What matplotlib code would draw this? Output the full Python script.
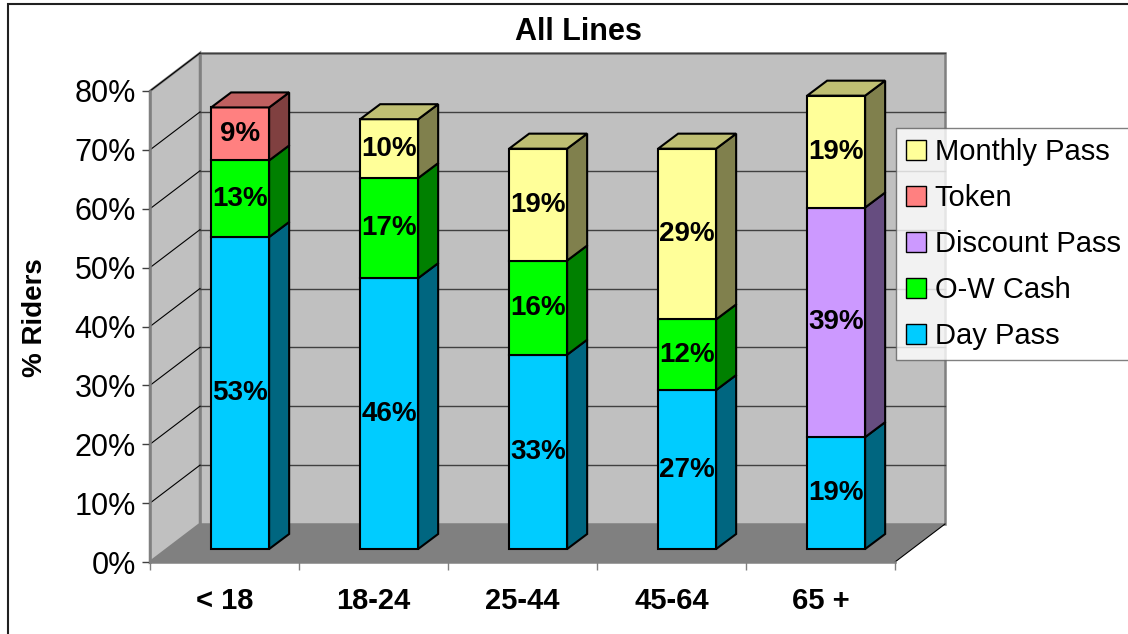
import matplotlib
matplotlib.use('Agg')
import matplotlib.pyplot as plt
import numpy as np
from matplotlib.colors import to_rgb
from matplotlib.patches import Polygon, Patch, Rectangle

plt.rcParams['font.family'] = ['Liberation Sans', 'DejaVu Sans']

categories = ['< 18', '18-24', '25-44', '45-64', '65 +']
series_names = ['Day Pass', 'O-W Cash', 'Discount Pass', 'Token', 'Monthly Pass']
day_pass = [53, 46, 33, 27, 19]
ow_cash = [13, 17, 16, 12, 0]
discount_pass = [0, 0, 0, 0, 39]
token = [9, 0, 0, 0, 0]
monthly_pass = [0, 10, 19, 29, 19]
series_colors = ['#00CCFF', '#00FF00', '#CC99FF', '#FF8080', '#FFFF99']
y_ticks = np.arange(0, 81, 10)

series_values = [day_pass, ow_cash, discount_pass, token, monthly_pass]

W, H = 1128, 634
fig = plt.figure(figsize=(W / 100, H / 100), dpi=100)

# front plane: x=-0.5 -> 150px, x=4.5 -> 895px ; y=0 -> 562px, y=80 -> 91px
px_x = 149.0
px_y = 471.0 / 80
ax = fig.add_axes([0, 0, 1, 1])
ax.set_xlim(-0.5 - 150 / px_x, -0.5 + (W - 150) / px_x)
ax.set_ylim(-(H - 562) / px_y, 562 / px_y)
ax.patch.set_visible(False)

# depth of the floor and of the bars (oblique projection)
Dx, Dy = 50 / px_x, 38 / px_y
ox, oy = 0.105, 13 / px_y
bdx, bdy = 20 / px_x, 15 / px_y
bw = 58 / px_x
x0, x1 = -0.5, len(categories) - 0.5
ytop = y_ticks[-1]

wall_c = '#C0C0C0'
edge_c = '#808080'
# back wall
ax.add_patch(Polygon([(x0 + Dx, Dy), (x1 + Dx, Dy), (x1 + Dx, ytop + Dy), (x0 + Dx, ytop + Dy)],
                     closed=True, facecolor=wall_c, edgecolor=edge_c, lw=1.8, zorder=1))
# side wall
ax.add_patch(Polygon([(x0, 0), (x0 + Dx, Dy), (x0 + Dx, ytop + Dy), (x0, ytop)],
                     closed=True, facecolor=wall_c, edgecolor=edge_c, lw=1.8, zorder=1))
# floor
ax.add_patch(Polygon([(x0, 0), (x1, 0), (x1 + Dx, Dy), (x0 + Dx, Dy)],
                     closed=True, facecolor='#808080', edgecolor='none', zorder=1.1))
ax.plot([x1, x1 + Dx], [0, Dy], color='black', lw=0.8, zorder=1.2)

# gridlines
for v in y_ticks[1:]:
    ax.plot([x0 + Dx, x1 + Dx], [v + Dy, v + Dy], color='#404040', lw=1.0, zorder=1.2)
    ax.plot([x0, x0 + Dx], [v, v + Dy], color='black', lw=0.8, zorder=1.2)

# bars
for i in range(len(categories)):
    bottom = 0
    last = max(k for k in range(len(series_values)) if series_values[k][i] > 0)
    for k, vals in enumerate(series_values):
        v = vals[i]
        if v <= 0:
            continue
        c = np.array(to_rgb(series_colors[k]))
        xa = i - bw / 2 + ox
        xb = xa + bw
        ya = bottom + oy
        yb = bottom + v + oy
        ax.add_patch(Polygon([(xa, ya), (xb, ya), (xb, yb), (xa, yb)], closed=True,
                             facecolor=c, edgecolor='black', lw=1.5, zorder=3))
        ax.add_patch(Polygon([(xb, ya), (xb + bdx, ya + bdy), (xb + bdx, yb + bdy), (xb, yb)],
                             closed=True, facecolor=c * 0.5, edgecolor='black', lw=1.5, zorder=3))
        if k == last:
            ax.add_patch(Polygon([(xa, yb), (xb, yb), (xb + bdx, yb + bdy), (xa + bdx, yb + bdy)],
                                 closed=True, facecolor=c * 0.75, edgecolor='black', lw=1.5, zorder=3))
        ax.text((xa + xb) / 2, (ya + yb) / 2, f'{v}%', ha='center', va='center',
                fontsize=20, fontweight='bold', zorder=4)
        bottom += v

# axes
for s in ['top', 'right']:
    ax.spines[s].set_visible(False)
ax.spines['left'].set_position(('data', x0))
ax.spines['left'].set_bounds(0, ytop)
ax.spines['bottom'].set_position(('data', 0))
ax.spines['bottom'].set_bounds(x0, x1)
for s in ['left', 'bottom']:
    ax.spines[s].set_color(edge_c)
    ax.spines[s].set_linewidth(1.8)
    ax.spines[s].set_zorder(2)

ax.set_yticks(y_ticks)
ax.set_yticklabels([f'{v}%' for v in y_ticks])
ax.tick_params(axis='y', length=6, width=1, color='#404040', pad=4, labelsize=22)
ax.set_xticks(np.arange(x0, x1 + 0.01, 1))
ax.set_xticklabels([])
ax.tick_params(axis='x', which='major', length=6, width=1, color='#808080')
ax.set_xticks(np.arange(len(categories)), minor=True)
ax.set_xticklabels(categories, minor=True, fontsize=21, fontweight='bold')
ax.tick_params(axis='x', which='minor', length=0, pad=18)

fig.text(578 / W, 1 - 31.5 / H, 'All Lines', ha='center', va='center',
         fontsize=22, fontweight='bold')
fig.text(35 / W, 1 - 318 / H, '% Riders', ha='center', va='center', rotation=90,
         fontsize=20, fontweight='bold')

handles = [Patch(facecolor=series_colors[k], edgecolor='black', lw=1, label=series_names[k])
           for k in reversed(range(len(series_names)))]
leg = fig.legend(handles=handles, loc='upper left', bbox_to_anchor=(896 / W, 1 - 128 / H),
                 fontsize=21, frameon=True, fancybox=False, borderaxespad=0,
                 borderpad=0.34, handlelength=0.68, handleheight=0.68,
                 handletextpad=0.31, labelspacing=0.62)
leg.get_frame().set_edgecolor('#606060')
leg.get_frame().set_linewidth(1.0)
leg.set_zorder(10)

fig.patches.append(Rectangle((8 / W, -0.1), 1.2, 1.1 - 4 / H, transform=fig.transFigure,
                             fill=False, edgecolor='#202020', lw=1.5))

fig.savefig('out.png', dpi=100)
